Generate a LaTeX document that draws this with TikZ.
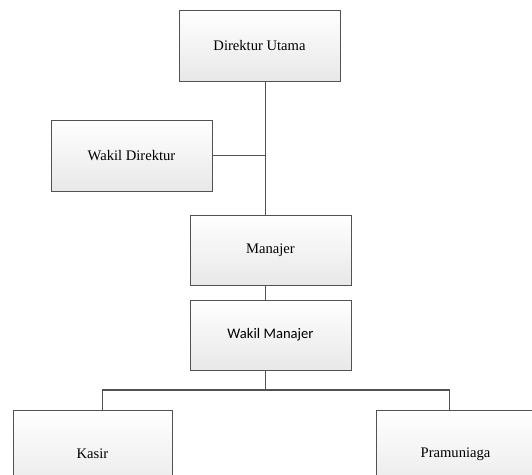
\documentclass[tikz,border=0pt]{standalone}
\usepackage{fontspec}
\setmainfont{Liberation Serif}
\newfontfamily\carlitofont{Carlito}
\usetikzlibrary{shadows}
\begin{document}
\begin{tikzpicture}[x=1pt,y=-1pt,
  orgbox/.style={draw=black!68, line width=0.9pt, rectangle,
    top color=white, bottom color=black!9,
    drop shadow={shadow xshift=1.4pt, shadow yshift=-1.4pt, fill=black!45, opacity=1},
    minimum width=161pt, minimum height=70pt, inner sep=0pt,
    font=\fontsize{14.6}{16}\selectfont},
  link/.style={draw=black!68, line width=1.1pt}]
\clip (0,0) rectangle (532,474);
\fill[white] (0,0) rectangle (532,474);
\coordinate (spine) at (265.5,0);
\node[orgbox, minimum height=71pt] (du) at (259.5,45.5) {Direktur Utama};
\node[orgbox, minimum height=71pt] (wd) at (131.5,155.5) {Wakil Direktur};
\node[orgbox] (mj) at (270.5,250) {Manajer};
\node[orgbox, font=\carlitofont\fontsize{14.6}{16}\selectfont] (wm) at (270.5,335) {Wakil Manajer};
\node[orgbox, minimum width=159pt, minimum height=88pt] (ks) at (92.5,454) {Kasir};
\node[orgbox, minimum width=159pt, minimum height=88pt] (pr) at (455.5,454) {Pramuniaga};
\coordinate (bar) at (0,390);
\coordinate (kx) at (102.7,0);
\coordinate (px) at (449.3,0);
\draw[link] (du.south -| spine) -- (mj.north -| spine);
\draw[link] (wd.east) -- (wd.east -| spine);
\draw[link] (mj.south -| spine) -- (wm.north -| spine);
\draw[link] (wm.south -| spine) -- (bar -| spine);
\draw[link] (ks.north -| kx) -- (bar -| kx) -- (bar -| px) -- (pr.north -| px);
\end{tikzpicture}
\end{document}
